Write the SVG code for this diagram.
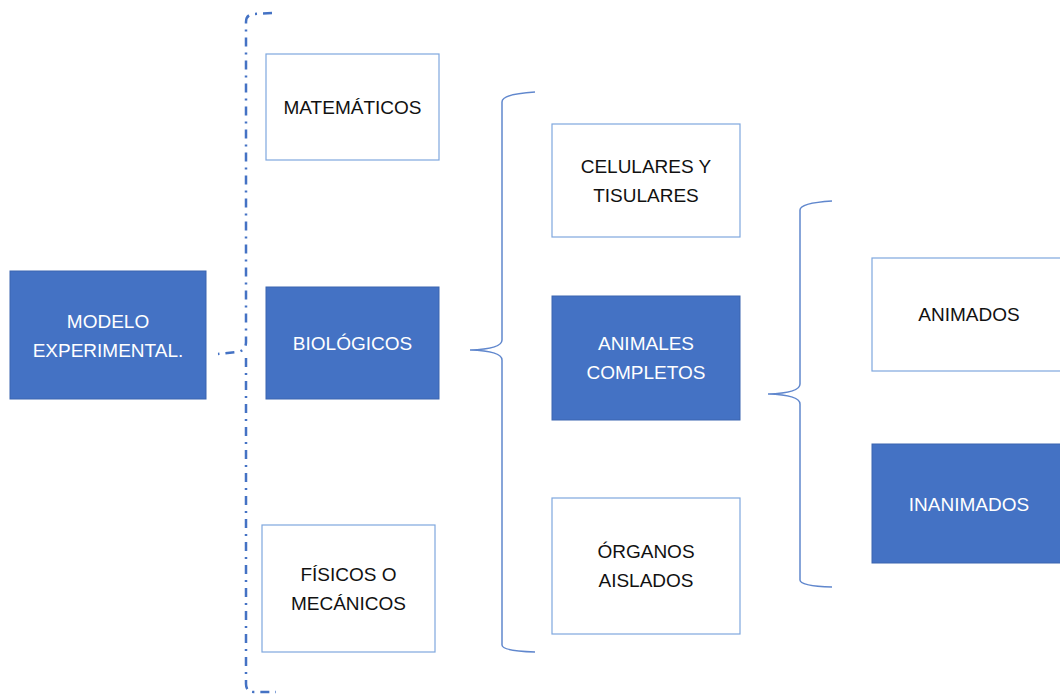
<svg xmlns="http://www.w3.org/2000/svg" width="1060" height="696" viewBox="0 0 1060 696">
<style>
.f{fill:#4472C4;stroke:#3A65B0;stroke-width:1}
.w{fill:#fff;stroke:#7FA7DE;stroke-width:1.2}
.br{fill:none;stroke:#4472C4;stroke-width:1.5;opacity:0.85}
.dd{fill:none;stroke:#4472C4;stroke-width:2.5;stroke-dasharray:9 6 2 6}
text{font-family:"Liberation Sans",Arial,sans-serif;font-size:19px;text-anchor:middle}
.tw{fill:#fff}
.tb{fill:#111}
</style>
<rect width="1060" height="696" fill="#fff"/>
<g id="connectors">
<path class="dd" d="M272,13 L253,14 Q246,15 246,22 L246,342 Q246,350 238,352 L218,354 M246,358 L246,684 Q246,692 254,692 L276,692"/>
<path class="br" d="M535,92 Q502,94 502,102 L502,340 Q502,349 470,350 Q502,351 502,360 L502,645 Q502,651 535,652"/>
<path class="br" d="M832,201 Q800,203 800,210 L800,384 Q800,393 768,394 Q800,395 800,404 L800,580 Q800,586 832,587"/>
</g>
<g id="modelo"><rect class="f" x="10" y="271" width="196" height="128"/><text class="tw" x="108" y="328">MODELO</text><text class="tw" x="108" y="357">EXPERIMENTAL.</text></g>
<g id="matematicos"><rect class="w" x="266" y="54" width="173" height="106"/><text class="tb" x="352.5" y="114">MATEMÁTICOS</text></g>
<g id="biologicos"><rect class="f" x="266" y="287" width="173" height="112"/><text class="tw" x="352.5" y="350">BIOLÓGICOS</text></g>
<g id="fisicos"><rect class="w" x="262" y="525" width="173" height="127"/><text class="tb" x="348.5" y="581">FÍSICOS O</text><text class="tb" x="348.5" y="610">MECÁNICOS</text></g>
<g id="celulares"><rect class="w" x="552" y="124" width="188" height="113"/><text class="tb" x="646" y="173">CELULARES Y</text><text class="tb" x="646" y="202">TISULARES</text></g>
<g id="animales"><rect class="f" x="552" y="296" width="188" height="124"/><text class="tw" x="646" y="350">ANIMALES</text><text class="tw" x="646" y="379">COMPLETOS</text></g>
<g id="organos"><rect class="w" x="552" y="498" width="188" height="136"/><text class="tb" x="646" y="558">ÓRGANOS</text><text class="tb" x="646" y="587">AISLADOS</text></g>
<g id="animados"><rect class="w" x="872" y="258" width="192" height="113"/><text class="tb" x="969" y="321">ANIMADOS</text></g>
<g id="inanimados"><rect class="f" x="872" y="444" width="192" height="119"/><text class="tw" x="969" y="511">INANIMADOS</text></g>
</svg>
